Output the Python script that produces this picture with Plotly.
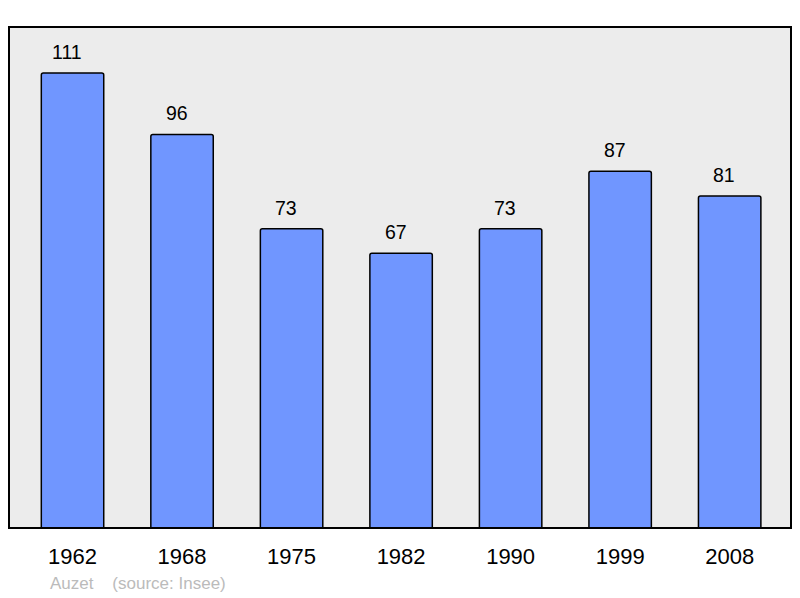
import plotly.graph_objects as go

years = ["1962", "1968", "1975", "1982", "1990", "1999", "2008"]
population = [111, 96, 73, 67, 73, 87, 81]
source_label = "Auzet    (source: Insee)"

fig = go.Figure()
fig.add_trace(go.Bar(
    x=years, y=population,
    marker=dict(color="#7096ff", line=dict(color="#000000", width=1.5), cornerradius=2),
    width=0.57,
    hoverinfo="skip",
))
for i, v in enumerate(population):
    fig.add_annotation(x=i, y=v, text=str(v), showarrow=False,
                       yanchor="bottom", yshift=8, xshift=-5.5,
                       font=dict(family="Liberation Sans, Arial", size=19.5, color="#000"))

fig.add_annotation(xref="paper", yref="paper", x=(48-9)/782, y=-(583-528)/501,
                   text=source_label, showarrow=False, xanchor="left", yanchor="middle",
                   font=dict(family="Liberation Sans, Arial", size=17, color="#bbbbbb"))

fig.add_shape(type="rect", xref="paper", yref="paper", x0=0, y0=0, x1=1, y1=1,
              line=dict(color="#000", width=2), fillcolor="rgba(0,0,0,0)", layer="above")

fig.update_layout(
    width=800, height=598,
    margin=dict(l=9, r=9, t=27, b=70),
    paper_bgcolor="#ffffff", plot_bgcolor="#ececec",
    showlegend=False,
    xaxis=dict(type="category", range=[-0.58, 6.56], showgrid=False, zeroline=False,
               ticks="outside", ticklen=9, tickcolor="rgba(0,0,0,0)",
               tickfont=dict(family="Liberation Sans, Arial", size=22, color="#000"),
               fixedrange=True),
    yaxis=dict(range=[0, 122.2], showgrid=False, zeroline=False, showticklabels=False,
               fixedrange=True),
    font=dict(family="Liberation Sans, Arial"),
)

fig.write_html("out.html", config={"displayModeBar": False},
               post_script="document.body.style.margin='0';document.body.style.overflow='hidden';")
